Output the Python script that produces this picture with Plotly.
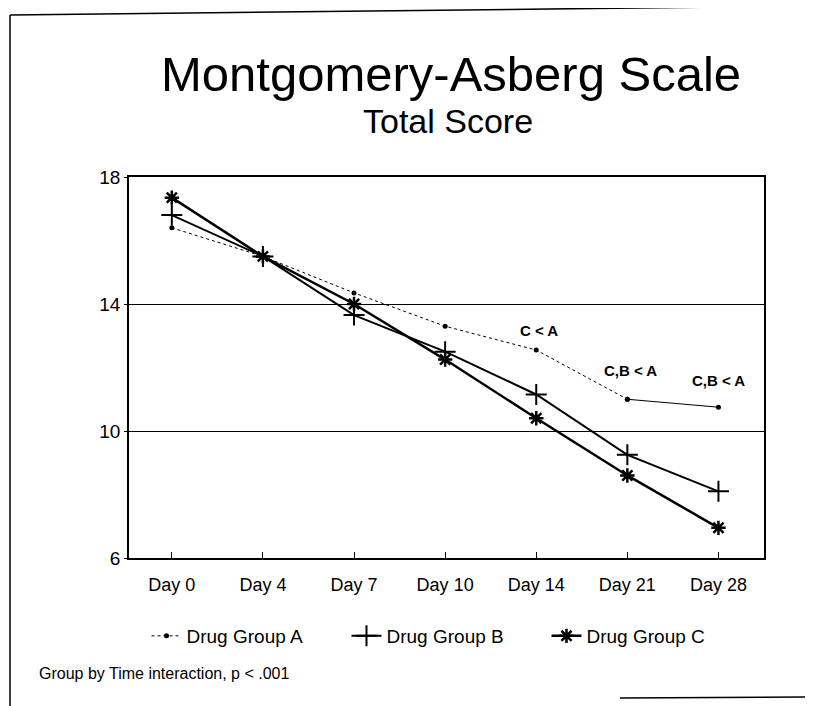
import plotly.graph_objects as go

# data
days = ["Day 0", "Day 4", "Day 7", "Day 10", "Day 14", "Day 21", "Day 28"]
group_a = [16.4, 15.5, 14.35, 13.3, 12.55, 11.0, 10.75]
group_b = [16.8, 15.5, 13.65, 12.5, 11.15, 9.25, 8.1]
group_c = [17.35, 15.5, 14.0, 12.25, 10.4, 8.6, 6.95]

note_text = ["C < A", "C,B < A", "C,B < A"]
note_x = [4.03, 5.03, 6.0]
note_y = [13.15, 11.9, 11.6]

OFF = 8                           # body margin of the page
W, H = 813, 706                   # browser window
L, R, T, B = 129, 764, 177, 558   # plot area, window pixels


def px(x):
    return (x - L) / (R - L)


def py(y):
    return (B - y) / (B - T)


font = "Liberation Sans"

fig = go.Figure()
# thin dotted line for group A, solid from day 21 onwards
fig.add_trace(go.Scatter(x=days[:6], y=group_a[:6], mode="lines+markers", name="Drug Group A",
                         line=dict(color="black", width=1, dash="dot"),
                         marker=dict(symbol="circle", size=5, color="black")))
fig.add_trace(go.Scatter(x=days[5:], y=group_a[5:], mode="lines+markers", showlegend=False,
                         line=dict(color="black", width=1),
                         marker=dict(symbol="circle", size=5, color="black")))
fig.add_trace(go.Scatter(x=days, y=group_b, mode="lines+markers", name="Drug Group B",
                         line=dict(color="black", width=2),
                         marker=dict(symbol="cross-thin", size=15, color="black",
                                     line=dict(color="black", width=2))))
fig.add_trace(go.Scatter(x=days, y=group_c, mode="lines+markers", name="Drug Group C",
                         line=dict(color="black", width=2.5),
                         marker=dict(symbol="asterisk", size=12, color="black",
                                     line=dict(color="black", width=2.5))))

for t, x, y in zip(note_text, note_x, note_y):
    fig.add_annotation(x=x, y=y, text="<b>" + t + "</b>", showarrow=False,
                       xanchor="center", yanchor="middle",
                       font=dict(family=font, size=15, color="black"))

# titles and footnote
fig.add_annotation(x=px(451), y=py(74), xref="paper", yref="paper", showarrow=False,
                   xanchor="center", yanchor="middle",
                   text="Montgomery-Asberg Scale", font=dict(family=font, size=49, color="black"))
fig.add_annotation(x=px(448), y=py(121), xref="paper", yref="paper", showarrow=False,
                   xanchor="center", yanchor="middle",
                   text="Total Score", font=dict(family=font, size=34, color="black"))
fig.add_annotation(x=px(37), y=py(673), xref="paper", yref="paper", showarrow=False,
                   xanchor="left", yanchor="middle", text="Group by Time interaction, p < .001",
                   font=dict(family=font, size=16, color="black"))

# outer frame of the scanned page
frame = dict(color="black", width=1.5)
fig.add_shape(type="line", xref="paper", yref="paper", x0=px(10), x1=px(10),
              y0=py(15), y1=py(706), line=frame)
fig.add_shape(type="line", xref="paper", yref="paper", x0=px(10), x1=px(813),
              y0=py(15), y1=py(6), line=frame)
fig.add_shape(type="line", xref="paper", yref="paper", x0=px(620), x1=px(813),
              y0=py(698), y1=py(697), line=frame)

fig.update_layout(
    width=W - OFF, height=H - OFF,
    margin=dict(l=L - OFF, r=W - R, t=T - OFF, b=H - B, autoexpand=False),
    paper_bgcolor="white", plot_bgcolor="white",
    font=dict(family=font, color="black"),
    legend=dict(orientation="h", x=0.5, xanchor="center", y=py(636), yanchor="middle",
                font=dict(size=19), entrywidth=155, traceorder="normal"),
)
fig.update_xaxes(type="category", range=[-0.47, 6.5], showline=True, linecolor="black",
                 linewidth=1.5, mirror=True, ticks="inside", ticklen=6, tickcolor="black",
                 showgrid=False, tickfont=dict(size=18), ticklabelstandoff=10)
fig.update_yaxes(range=[6, 18], tickvals=[6, 10, 14, 18], showline=True, linecolor="black",
                 linewidth=1.5, mirror=True, ticks="outside", ticklen=3, tickcolor="black",
                 showgrid=True, gridcolor="black", gridwidth=1, zeroline=False,
                 tickfont=dict(size=19))

fig.write_html("out.html")
